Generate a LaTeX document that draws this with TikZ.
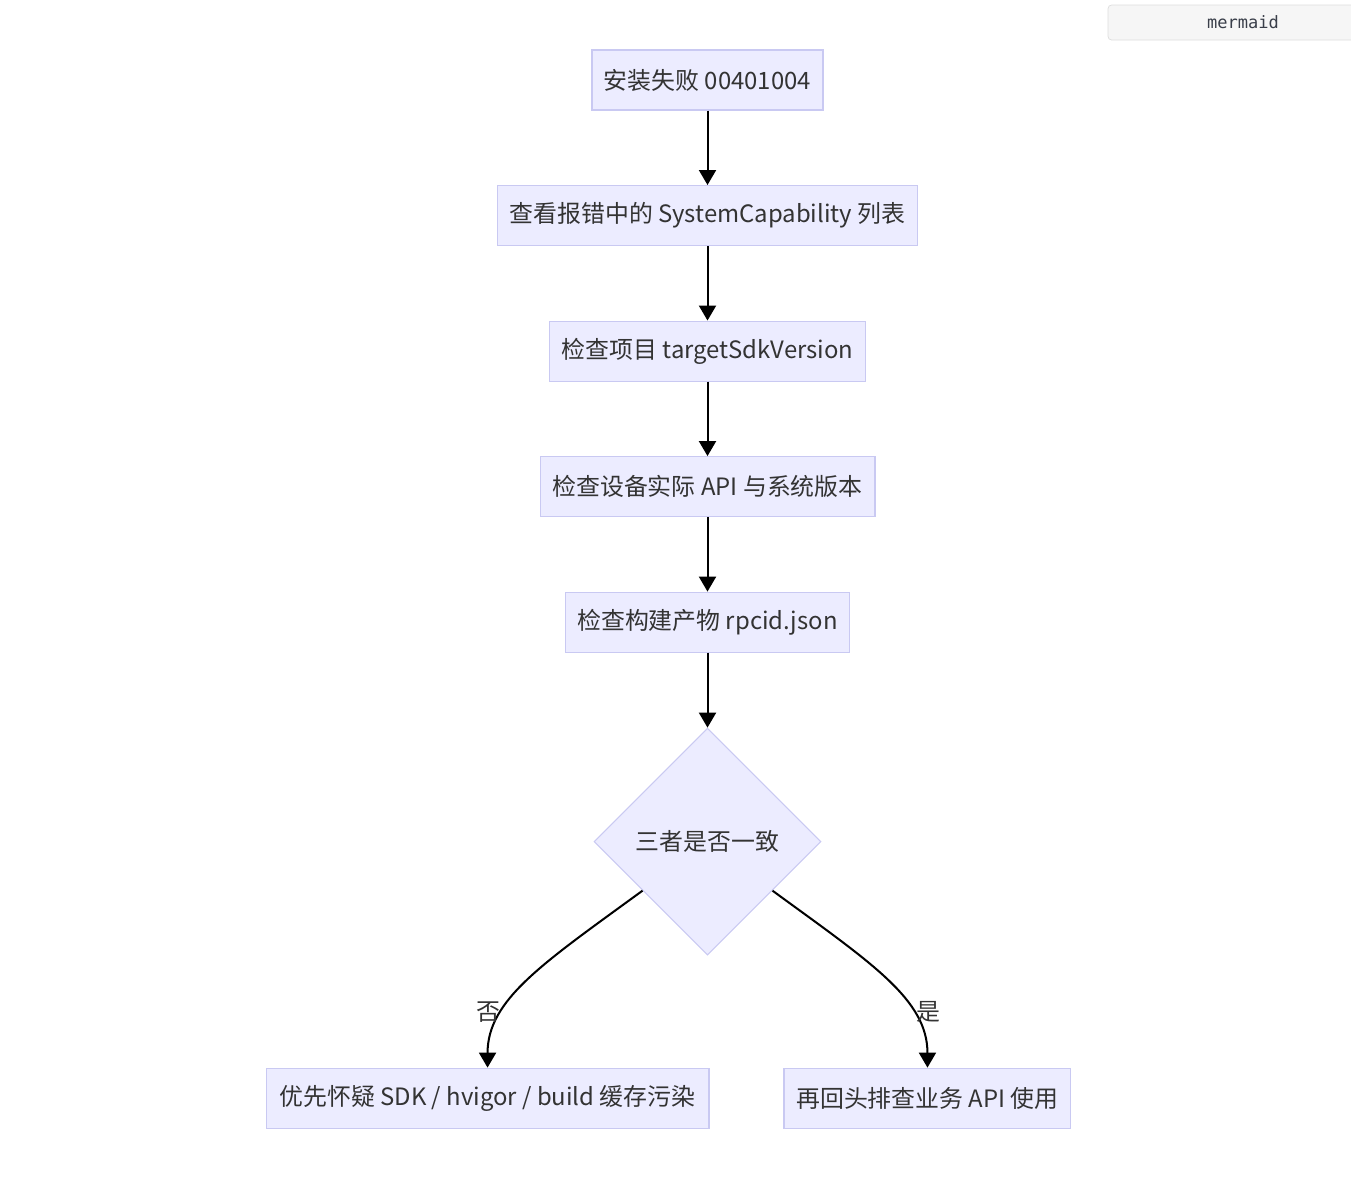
\documentclass[tikz,border=0pt]{standalone}
\usepackage{fontspec}
\setmainfont{Noto Sans CJK SC}
\newfontfamily\tagfont{DejaVu Sans Mono}
\usetikzlibrary{positioning,shapes.geometric,arrows.meta,calc}
\definecolor{boxfill}{HTML}{ECECFF}
\definecolor{boxline}{HTML}{C9C9F2}
\definecolor{ink}{HTML}{333333}
\tikzset{
  proc/.style={draw=boxline, fill=boxfill, line width=0.6pt, text=ink,
    minimum height=1.2cm, inner xsep=0.24cm},
  decide/.style={diamond, aspect=1, draw=boxline, fill=boxfill, line width=0.6pt,
    text=ink, minimum width=4.54cm, minimum height=4.54cm, inner sep=0pt},
  flow/.style={draw=black, line width=1.15pt, -{Triangle[length=0.3cm,width=0.34cm]}},
  lbl/.style={text=ink, inner sep=1pt}
}

\begin{document}
\begin{tikzpicture}[x=0.02cm, y=-0.02cm, font=\fontsize{13.6}{16}\selectfont]
    \useasboundingbox (0,0) rectangle (1351,1178);

    \node [proc, minimum width=4.54cm] (fail) at (707.5,80) {安装失败 00401004};
    \node [proc, below=1.49cm of fail, minimum width=8.26cm] (syscap) {查看报错中的 SystemCapability 列表};
    \draw [flow] (fail) -- (syscap);
    \node [proc, below=1.49cm of syscap, minimum width=6.14cm] (sdkver) {检查项目 targetSdkVersion};
    \draw [flow] (syscap) -- (sdkver);
    \node [proc, below=1.49cm of sdkver, minimum width=6.7cm] (devapi) {检查设备实际 API 与系统版本};
    \draw [flow] (sdkver) -- (devapi);
    \node [proc, below=1.49cm of devapi, minimum width=5.64cm] (rpcid) {检查构建产物 rpcid.json};
    \draw [flow] (devapi) -- (rpcid);

    \node [decide, below=1.5cm of rpcid] (same) {三者是否一致};
    \draw [flow] (rpcid) -- (same);

    \node [proc, below=2.24cm of same, xshift=-4.4cm, minimum width=8.86cm] (cache) {优先怀疑 SDK\ / hvigor\ / build 缓存污染};
    \node [proc, below=2.24cm of same, xshift=4.4cm, minimum width=5.74cm] (bizapi) {再回头排查业务 API 使用};

    \draw [flow] ($(same.west)!0.43!(same.south)$) .. controls +(-100,73) and +(0,-68) .. (cache.north);
    \node [lbl] (no) at (488,1012) {否};
    \draw [flow] ($(same.east)!0.43!(same.south)$) .. controls +(100,73) and +(0,-68) .. (bizapi.north);
    \node [lbl] (yes) at (928,1012) {是};

    \node [draw={rgb,255:red,221;green,221;blue,221}, fill={rgb,255:red,246;green,246;blue,246},
      rounded corners=2pt, minimum width=5.4cm, minimum height=0.7cm,
      font=\tagfont\fontsize{9.7}{12}\selectfont, text={rgb,255:red,58;green,63;blue,74}]
      (tag) at (1243,22.5) {mermaid};
\end{tikzpicture}
\end{document}
